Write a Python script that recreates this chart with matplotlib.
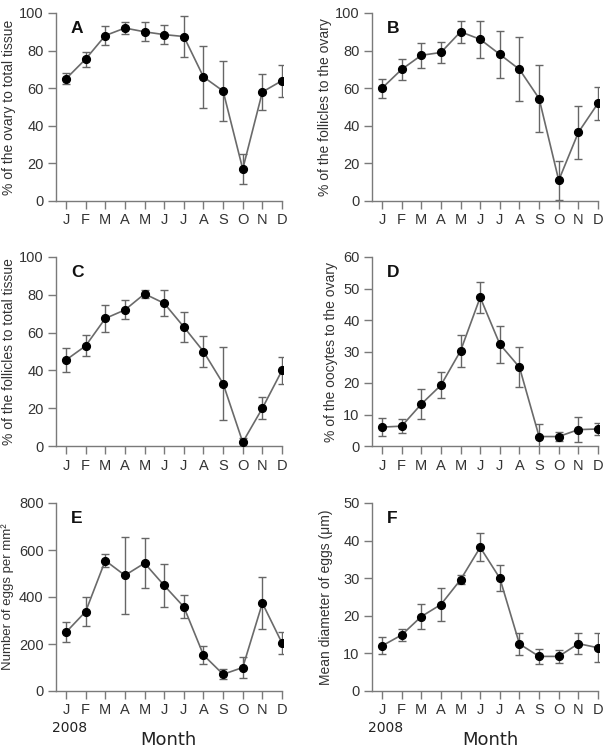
import matplotlib
matplotlib.use("Agg")
import matplotlib.pyplot as plt

plt.rcParams['font.family'] = ['Liberation Sans', 'DejaVu Sans']

months = ['J', 'F', 'M', 'A', 'M', 'J', 'J', 'A', 'S', 'O', 'N', 'D']
x = list(range(1, 13))

ovary_total = [65, 75.5, 88, 92, 90, 88.5, 87.5, 66, 58.5, 17, 58, 64]
ovary_total_err = [3, 4, 5, 3, 5, 5, 11, 16.5, 16, 8, 9.5, 8.5]

foll_ovary = [60, 70, 77.5, 79, 90, 86, 78, 70, 54.5, 11, 36.5, 52]
foll_ovary_err = [5, 5.5, 6.5, 5.5, 6, 10, 12.5, 17, 18, 10.5, 14, 8.7]

foll_total = [45.5, 53, 67.5, 72, 80.5, 75.5, 63, 50, 33, 2, 20, 40]
foll_total_err = [6.2, 5.5, 7, 5, 2, 6.8, 8, 8.3, 19.3, 2, 5.7, 7]

oocytes = [6, 6.3, 13.3, 19.3, 30.2, 47.2, 32.3, 25, 3, 3, 5.2, 5.4]
oocytes_err = [2.8, 2.3, 4.8, 4.2, 5, 5, 5.8, 6.3, 3.9, 1.5, 4, 2]

eggs_n = [250, 338, 555, 492, 544, 449, 358, 153, 71, 100, 374, 204]
eggs_n_err = [42, 62, 27, 165, 107, 93, 49, 39, 21, 43, 109, 45]

eggs_d = [12, 14.9, 19.8, 23, 29.6, 38.2, 30, 12.5, 9.2, 9.2, 12.6, 11.5]
eggs_d_err = [2.25, 1.65, 3.4, 4.5, 1.2, 3.7, 3.5, 3, 2.1, 1.7, 2.7, 3.8]

W, H = 610, 753
fig = plt.figure(figsize=(W / 100, H / 100), dpi=100)

def add_ax(l, r, t, b):
    return fig.add_axes([l / W, 1 - b / H, (r - l) / W, (b - t) / H])

panels = [
    # (left, right, top, bottom) px, data, err, ylim, yticks, ylabel, letter, label x, label size
    ((56, 283, 13, 201), ovary_total, ovary_total_err, 100, range(0, 101, 20),
     '% of the ovary to total tissue', 'A', -0.207, 10),
    ((372, 599, 13, 201), foll_ovary, foll_ovary_err, 100, range(0, 101, 20),
     '% of the follicles to the ovary', 'B', -0.207, 10),
    ((56, 283, 257, 446), foll_total, foll_total_err, 100, range(0, 101, 20),
     '% of the follicles to total tissue', 'C', -0.207, 10),
    ((372, 599, 257, 446), oocytes, oocytes_err, 60, range(0, 61, 10),
     '% of the oocytes to the ovary', 'D', -0.18, 10),
    ((56, 283, 503, 691), eggs_n, eggs_n_err, 800, range(0, 801, 200),
     'Number of eggs per mm\u00b2', 'E', -0.214, 9.5),
    ((372, 599, 503, 691), eggs_d, eggs_d_err, 50, range(0, 51, 10),
     'Mean diameter of eggs (\u03bcm)', 'F', -0.204, 10),
]

spine_col = '#7a7a7a'
text_col = '#333333'

for box, y, err, ymax, yt, ylab, letter, lx, lfs in panels:
    ax = add_ax(*box)
    ax.errorbar(x, y, yerr=err, fmt='none', ecolor='#666666', elinewidth=1.0,
                capsize=3, capthick=1.0, zorder=2)
    ax.plot(x, y, '-', color='#6a6a6a', lw=1.2, zorder=3)
    ax.plot(x, y, 'o', color='black', ms=5.6, zorder=4)
    ax.set_xlim(0.49, 12.05)
    ax.set_ylim(0, ymax)
    ax.set_xticks(x)
    ax.set_xticklabels(months)
    ax.set_yticks(list(yt))
    for s in ['top', 'right']:
        ax.spines[s].set_visible(False)
    for s in ['left', 'bottom']:
        ax.spines[s].set_color(spine_col)
        ax.spines[s].set_linewidth(1.0)
    ax.spines['left'].set_bounds(0, ymax)
    ax.spines['bottom'].set_bounds(0.49, 12.0)
    ax.tick_params(direction='out', length=6, width=1.0, color=spine_col,
                   labelsize=10.5, labelcolor=text_col, pad=3)
    ax.set_ylabel(ylab, fontsize=lfs, color=text_col, va='center')
    ax.yaxis.set_label_coords(lx, 0.5)
    ax.text(0.065, 0.96, letter, transform=ax.transAxes, fontsize=12.5,
            fontweight='bold', color='#111111', ha='left', va='top')
    ax.patch.set_visible(False)

fig.text(52 / W, 1 - 728 / H, '2008', fontsize=10, color='#222222',
         family='DejaVu Sans', ha='left', va='center')
fig.text(368 / W, 1 - 728 / H, '2008', fontsize=10, color='#222222',
         family='DejaVu Sans', ha='left', va='center')
fig.text(168 / W, 1 - 740 / H, 'Month', fontsize=13, color='#222222',
         family='DejaVu Sans', ha='center', va='center')
fig.text(490 / W, 1 - 740 / H, 'Month', fontsize=13, color='#222222',
         family='DejaVu Sans', ha='center', va='center')

fig.savefig('out.png', dpi=100)
